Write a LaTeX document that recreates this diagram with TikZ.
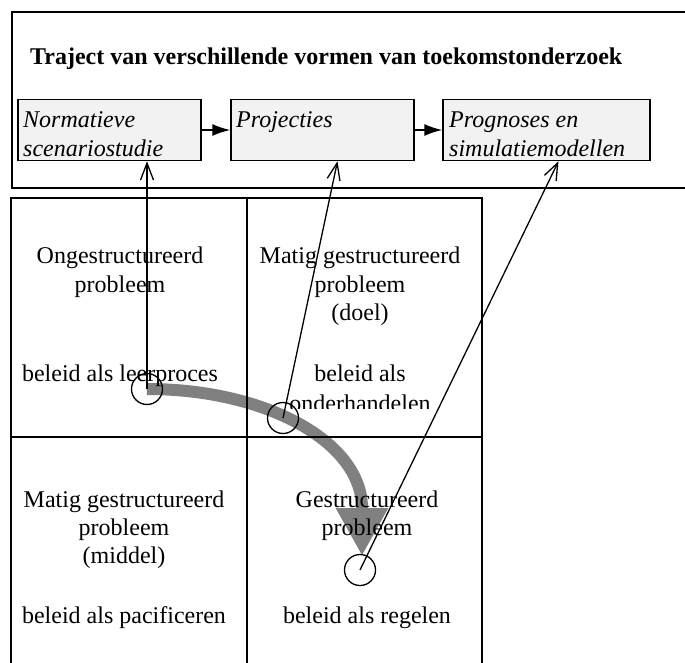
\documentclass[tikz,border=0pt]{standalone}
\usepackage{fontspec}
\setmainfont{Liberation Serif}
\usetikzlibrary{arrows.meta}

\definecolor{boxgrey}{RGB}{242,242,242}
\definecolor{bandgrey}{RGB}{128,128,128}

\tikzset{
  frame/.style={line width=1.8pt},
  gridline/.style={line width=1.5pt},
  stagebox/.style={draw, line width=1.5pt, fill=boxgrey, minimum height=61pt, inner sep=0pt},
  boxtext/.style={anchor=base west, inner sep=0pt, font=\fontsize{24}{29}\selectfont\itshape},
  celltext/.style={anchor=base, inner sep=0pt, font=\fontsize{24}{29}\selectfont},
  ring/.style={circle, draw, line width=1.3pt, minimum size=31pt, inner sep=0pt},
  pointer/.style={line width=1.3pt, -{Straight Barb[length=17pt,width=13pt]}},
  flow/.style={line width=1.5pt, -{Latex[length=18pt,width=12pt]}},
  band/.style={line width=12pt, bandgrey, -{Triangle[width=49pt,length=48pt]}}
}

\begin{document}
\begin{tikzpicture}[x=1pt, y=-1pt]
  \useasboundingbox (0,0) rectangle (685,663);
  % bovenste kader
  \draw[frame] (700,12) -- (12,12) -- (12,188) -- (700,188);
  \node[anchor=base west, inner sep=0pt, font=\fontsize{24}{29}\selectfont\bfseries] (titel) at (30,65)
    {Traject van verschillende vormen van toekomstonderzoek};

  \node[stagebox, minimum width=183pt] (norm) at (109.5,130) {};
  \node[stagebox, minimum width=183pt] (proj) at (322.5,130) {};
  \node[stagebox, minimum width=207pt] (prog) at (546.5,130) {};
  \node[boxtext] (norm1) at (23,128) {Normatieve};
  \node[boxtext] (norm2) at (23,157) {scenariostudie};
  \node[boxtext] (proj1) at (236,128) {Projecties};
  \node[boxtext] (prog1) at (449,128) {Prognoses en};
  \node[boxtext] (prog2) at (449,157) {simulatiemodellen};
  \draw[flow] (norm) -- (proj);
  \draw[flow] (proj) -- (prog);

  % grijze pijl
  \coordinate (leer) at (147,389);
  \coordinate (onder) at (283,418);
  \coordinate (regel) at (360,570);
  \draw[band] (leer) .. controls (266,389) and (362,442) .. (362,508) -- (362,556);

  % matrix
  \draw[gridline] (11,670) -- (11,198) -- (482,198) -- (482,670);
  \draw[gridline] (247,198) -- (247,670);
  \draw[gridline] (11,437) -- (482,437);

  \foreach \x/\y/\t [count=\i] in {
      120/263/Ongestructureerd, 120/292/probleem, 120/381/beleid als leerproces,
      360/263/Matig gestructureerd, 360/292/probleem, 360/320/(doel),
      360/381/beleid als,
      124/507/Matig gestructureerd, 124/535/probleem, 124/563/(middel),
      124/623/beleid als pacificeren,
      367/507/Gestructureerd, 367/535/probleem, 367/623/beleid als regelen}
  {
      \node[celltext] (cel\i) at (\x,\y) {\t};
  }
  % onderkant van deze regel valt weg
  \begin{scope}
    \clip (250,385) rectangle (480,408.5);
    \node[celltext] (onderh) at (360,411) {onderhandelen};
  \end{scope}

  \node[ring] (c1) at (leer) {};
  \node[ring] (c2) at (onder) {};
  \node[ring] (c3) at (regel) {};
  \draw[pointer] (c1.center) -- (norm.south -| c1.center);
  \draw[pointer] (c2.center) -- ([xshift=15pt]proj.south);
  \draw[pointer] (c3.center) -- ([xshift=12pt]prog.south);
\end{tikzpicture}
\end{document}
